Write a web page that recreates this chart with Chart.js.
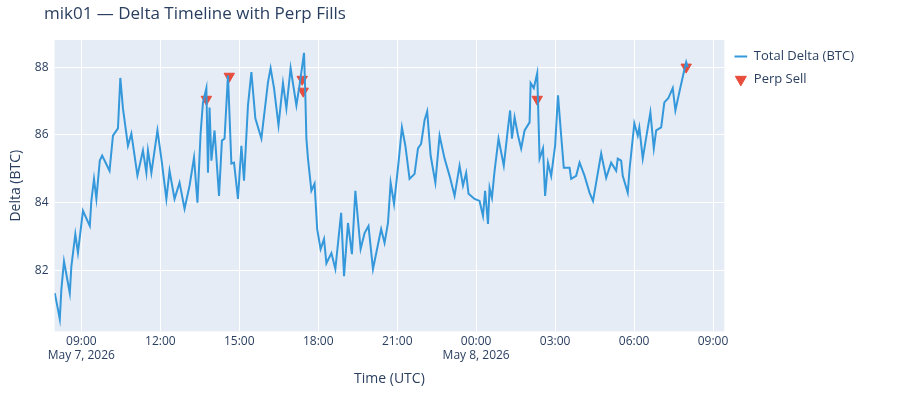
<!DOCTYPE html>
<html>
<head>
<meta charset="utf-8">
<script src="https://cdn.jsdelivr.net/npm/chart.js@4"></script>
<style>
  body { margin: 0; background: #fff; }
  #wrap { width: 900px; height: 400px; position: relative; }
</style>
</head>
<body>
<div id="wrap"><canvas id="myChart"></canvas></div>
<script>
// hours since May 7, 2026 00:00 UTC
const deltaTimes = [7.99, 8.11, 8.18, 8.24, 8.34, 8.49, 8.56, 8.62, 8.77, 8.87, 9.06, 9.32, 9.38, 9.48, 9.57, 9.70, 9.79, 10.07, 10.20, 10.39,
  10.48, 10.58, 10.77, 10.90, 11.13, 11.34, 11.47, 11.53, 11.66, 11.89, 12.04, 12.23, 12.35, 12.54, 12.73, 12.92, 13.11, 13.28, 13.41, 13.53,
  13.62, 13.75, 13.81, 13.87, 13.94, 14.06, 14.23, 14.34, 14.44, 14.57, 14.70, 14.80, 14.95, 15.08, 15.18, 15.33, 15.46, 15.61, 15.84, 16.09,
  16.19, 16.32, 16.49, 16.66, 16.79, 16.95, 17.17, 17.29, 17.38, 17.46, 17.51, 17.55, 17.61, 17.74, 17.86, 17.96, 18.09, 18.22, 18.31, 18.50,
  18.65, 18.87, 18.98, 19.13, 19.28, 19.41, 19.61, 19.76, 19.91, 20.08, 20.39, 20.52, 20.65, 20.75, 20.88, 21.05, 21.18, 21.31, 21.47, 21.66,
  21.79, 21.91, 22.04, 22.14, 22.27, 22.45, 22.61, 22.80, 22.99, 23.18, 23.37, 23.50, 23.62, 23.71, 23.94, 24.13, 24.26, 24.34, 24.45, 24.51,
  24.60, 24.70, 24.85, 25.05, 25.20, 25.29, 25.36, 25.46, 25.59, 25.71, 25.84, 26.03, 26.07, 26.19, 26.32, 26.41, 26.54, 26.62, 26.73, 26.85,
  27.00, 27.11, 27.23, 27.33, 27.55, 27.61, 27.80, 27.93, 28.12, 28.31, 28.44, 28.56, 28.75, 28.94, 29.13, 29.32, 29.38, 29.51, 29.57, 29.76,
  29.83, 30.01, 30.14, 30.20, 30.33, 30.46, 30.62, 30.75, 30.84, 31.03, 31.15, 31.30, 31.47, 31.57, 31.72, 31.89, 31.98, 32.04];
const deltaValues = [81.33, 80.85, 80.56, 81.44, 82.27, 81.63, 81.33, 82.12, 83.07, 82.52, 83.76, 83.31, 84.05, 84.70, 84.11, 85.24, 85.39, 84.94, 85.98, 86.19,
  87.68, 86.78, 85.68, 86.04, 84.80, 85.54, 84.88, 85.54, 84.88, 86.13, 85.30, 84.11, 84.94, 84.11, 84.59, 83.82, 84.50, 85.33, 84.00, 86.04,
  86.96, 87.38, 84.88, 86.81, 85.24, 86.13, 84.20, 85.83, 85.89, 87.76, 85.15, 85.18, 84.11, 85.68, 84.65, 86.87, 87.85, 86.49, 85.89, 87.55,
  87.97, 87.38, 86.28, 87.53, 86.78, 87.97, 86.87, 87.47, 87.97, 88.42, 87.17, 85.89, 85.30, 84.35, 84.56, 83.22, 82.63, 82.93, 82.21, 82.51,
  82.04, 83.70, 81.83, 83.40, 82.48, 84.35, 82.63, 83.10, 83.31, 82.04, 83.22, 82.81, 83.40, 84.59, 83.96, 85.18, 86.22, 85.68, 84.70, 84.85,
  85.60, 85.74, 86.43, 86.69, 85.39, 84.59, 85.98, 85.30, 84.79, 84.20, 85.09, 84.50, 84.88, 84.26, 84.11, 84.05, 83.61, 84.35, 83.37, 84.44,
  84.14, 84.94, 85.89, 85.09, 86.13, 86.72, 85.89, 86.52, 85.98, 85.60, 86.13, 86.37, 87.53, 87.38, 87.82, 85.30, 85.60, 84.20, 85.18, 84.79,
  85.68, 87.17, 85.98, 85.03, 85.03, 84.70, 84.79, 85.18, 84.79, 84.29, 84.05, 84.59, 85.45, 84.73, 85.18, 84.94, 85.30, 85.24, 84.79, 84.29,
  85.00, 86.34, 85.98, 86.22, 85.30, 85.92, 86.66, 85.60, 86.13, 86.22, 86.96, 87.08, 87.38, 86.72, 87.26, 87.85, 88.15, 88.00];
const sellTimes = [13.75, 14.62, 17.39, 17.43, 26.32, 31.98];
const sellValues = [87.05, 87.73, 87.64, 87.29, 87.05, 88.00];
const xTicks = [9, 12, 15, 18, 21, 24, 27, 30, 33];
const yTicks = [82, 84, 86, 88];
const chartTitle = "mik01 — Delta Timeline with Perp Fills";

const fontFamily = "'Open Sans', 'Liberation Sans', sans-serif";
const font = { family: fontFamily, size: 12 };

const plotBg = {
  id: "plotBg",
  beforeDraw(chart) {
    const { ctx, chartArea: a } = chart;
    ctx.save();
    ctx.fillStyle = "#E5ECF6";
    ctx.fillRect(a.left, a.top, a.right - a.left, a.bottom - a.top);
    ctx.fillStyle = "#2a3f5f";
    ctx.font = "17px " + fontFamily;
    ctx.textBaseline = "middle";
    ctx.fillText(chartTitle, 44, 14);
    ctx.restore();
  },
};

function hhmm(h) {
  const hh = ((h % 24) + 24) % 24;
  return String(Math.floor(hh)).padStart(2, "0") + ":00";
}

new Chart(document.getElementById("myChart"), {
  type: "line",
  data: {
    datasets: [
      {
        label: "Total Delta (BTC)",
        data: deltaTimes.map((t, i) => ({ x: t, y: deltaValues[i] })),
        borderColor: "#3498db",
        borderWidth: 2,
        pointRadius: 0,
        tension: 0,
      },
      {
        label: "Perp Sell",
        type: "scatter",
        data: sellTimes.map((t, i) => ({ x: t, y: sellValues[i] })),
        backgroundColor: "#e74c3c",
        borderColor: "#e74c3c",
        pointStyle: "triangle",
        rotation: 180,
        pointRadius: 6,
      },
    ],
  },
  options: {
    responsive: true,
    maintainAspectRatio: false,
    animation: false,
    layout: { padding: { left: 4, right: 36, top: 40, bottom: 9 } },
    plugins: {
      title: { display: false },
      legend: {
        position: "right",
        align: "start",
        labels: {
          color: "#2a3f5f",
          font: { family: fontFamily, size: 13 },
          usePointStyle: true,
          boxHeight: 9,
          padding: 10,
          generateLabels(chart) {
            return [
              { text: "Total Delta (BTC)", pointStyle: "line", strokeStyle: "#3498db", fillStyle: "#3498db", lineWidth: 2, fontColor: "#2a3f5f", datasetIndex: 0 },
              { text: "Perp Sell", pointStyle: "triangle", rotation: 180, strokeStyle: "#e74c3c", fillStyle: "#e74c3c", lineWidth: 1, fontColor: "#2a3f5f", datasetIndex: 1 },
            ];
          },
        },
      },
      tooltip: { enabled: false },
    },
    scales: {
      x: {
        type: "linear",
        min: 7.98,
        max: 33.43,
        afterBuildTicks(axis) { axis.ticks = xTicks.map((v) => ({ value: v })); },
        ticks: {
          color: "#2a3f5f",
          font: font,
          maxRotation: 0,
          callback(v) {
            if (v === 9) return [hhmm(v), "May 7, 2026"];
            if (v === 24) return [hhmm(v), "May 8, 2026"];
            return hhmm(v);
          },
        },
        grid: { color: "#ffffff", lineWidth: 1, drawTicks: false },
        border: { display: false },
        title: { display: true, text: "Time (UTC)", color: "#2a3f5f", font: { family: fontFamily, size: 14 } },
      },
      y: {
        min: 80.2,
        max: 88.8,
        afterBuildTicks(axis) { axis.ticks = yTicks.map((v) => ({ value: v })); },
        ticks: { color: "#2a3f5f", font: font, padding: 6 },
        grid: { color: "#ffffff", lineWidth: 1, drawTicks: false },
        border: { display: false },
        title: { display: true, text: "Delta (BTC)", color: "#2a3f5f", font: { family: fontFamily, size: 14 } },
      },
    },
  },
  plugins: [plotBg],
});
</script>
</body>
</html>
